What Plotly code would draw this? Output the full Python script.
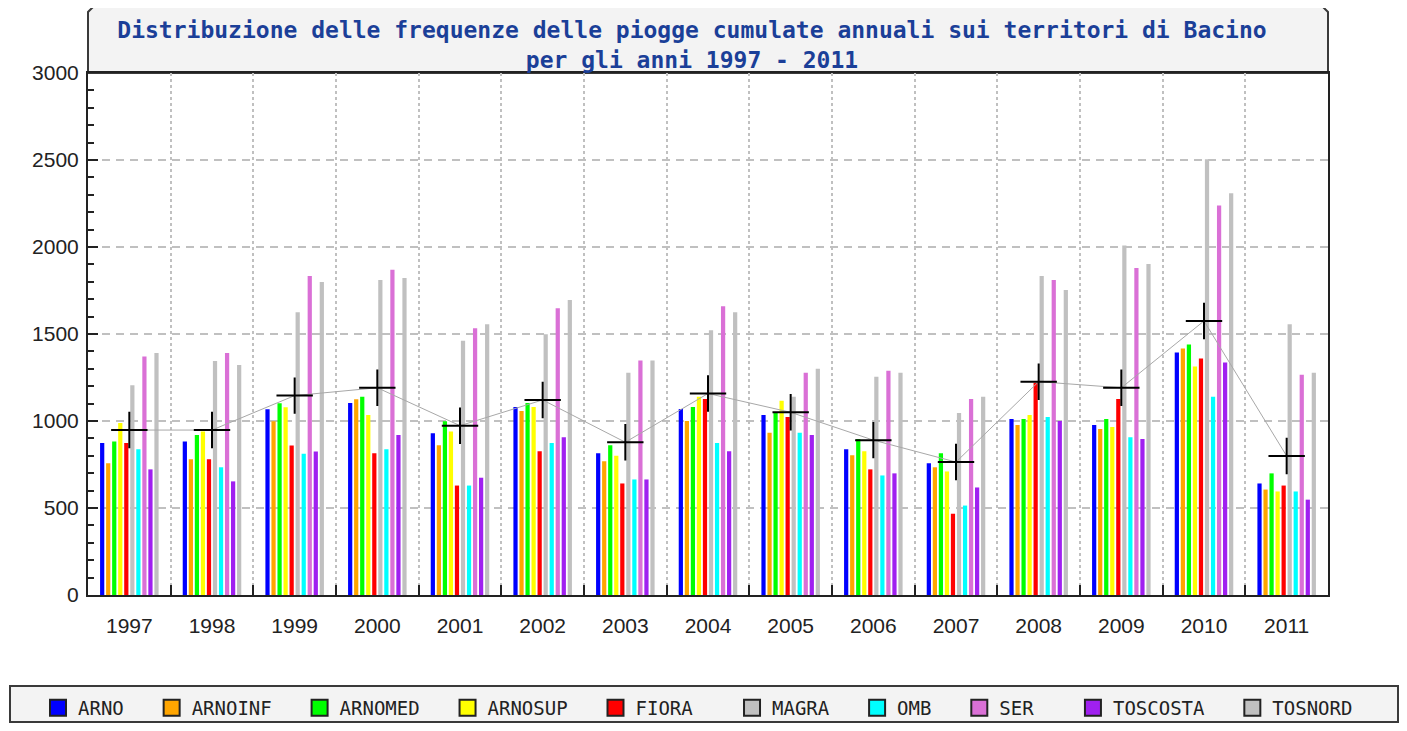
import plotly.graph_objects as go

years = ["1997", "1998", "1999", "2000", "2001", "2002", "2003", "2004",
         "2005", "2006", "2007", "2008", "2009", "2010", "2011"]

arno     = [873, 882, 1067, 1104, 930, 1081, 815, 1069, 1035, 838, 757, 1011, 977, 1394, 641]
arnoinf  = [757, 780, 998, 1125, 861, 1058, 768, 1000, 933, 803, 734, 977, 954, 1417, 606]
arnomed  = [882, 919, 1102, 1139, 998, 1104, 861, 1081, 1046, 896, 815, 1011, 1011, 1440, 699]
arnosup  = [988, 940, 1079, 1035, 940, 1081, 801, 1139, 1116, 826, 710, 1035, 965, 1313, 595]
fiora    = [873, 780, 859, 815, 629, 826, 641, 1127, 1023, 722, 467, 1220, 1127, 1359, 629]
magra    = [1206, 1345, 1625, 1811, 1461, 1498, 1278, 1521, 1139, 1255, 1046, 1834, 2008, 2505, 1556]
omb      = [838, 734, 812, 838, 629, 873, 664, 873, 933, 687, 514, 1023, 907, 1139, 595]
ser      = [1370, 1391, 1834, 1869, 1533, 1648, 1347, 1660, 1278, 1289, 1127, 1811, 1880, 2239, 1266]
toscosta = [722, 653, 824, 919, 674, 907, 664, 826, 919, 699, 618, 1000, 896, 1336, 548]
tosnord  = [1391, 1322, 1799, 1822, 1556, 1695, 1347, 1625, 1301, 1278, 1139, 1753, 1903, 2309, 1278]
media    = [948, 948, 1146, 1191, 973, 1121, 878, 1158, 1050, 890, 764, 1226, 1191, 1575, 799]

series_names = ["ARNO", "ARNOINF", "ARNOMED", "ARNOSUP", "FIORA",
                "MAGRA", "OMB", "SER", "TOSCOSTA", "TOSNORD"]
series_values = [arno, arnoinf, arnomed, arnosup, fiora,
                 magra, omb, ser, toscosta, tosnord]
colors = ["#0000ff", "#ffa500", "#00ff00", "#ffff00", "#ff0000",
          "#c0c0c0", "#00ffff", "#da70d6", "#a020f0", "#c0c0c0"]

# The page body has an 8px margin, so the figure is sized to fit inside the window
OFF = 8
W, H = 1407 - 2 * OFF, 731 - 2 * OFF
# plot area in figure pixels
L, R, T, B = 88 - OFF, 1328 - OFF, 73 - OFF, 595 - OFF


def px(x):
    """page x (reference pixel) -> paper x"""
    return (x - OFF - L) / (R - L)


def py(y):
    """page y (reference pixel) -> paper y"""
    return (B - (y - OFF)) / (B - T)


fig = go.Figure()

for name, vals, col in zip(series_names, series_values, colors):
    fig.add_trace(go.Bar(x=years, y=vals, name=name, marker_color=col,
                         marker_line_width=0, showlegend=False))

fig.add_trace(go.Scatter(
    x=years, y=media, mode="lines+markers", name="Media", showlegend=False,
    line=dict(color="#a8a8a8", width=1),
    marker=dict(symbol="cross-thin", size=26, color="black",
                line=dict(width=2, color="black"))))

# legend entries
pads = ["\u00a0\u00a0"] * 4 + ["\u00a0\u00a0\u00a0"] + ["\u00a0\u00a0"] * 2 + \
       ["\u00a0\u00a0\u00a0"] + ["\u00a0\u00a0"] + [""]
for name, col, p in zip(series_names, colors, pads):
    fig.add_trace(go.Scatter(
        x=[None], y=[None], mode="markers", name=name + p,
        marker=dict(symbol="square", size=18, color=col,
                    line=dict(width=2, color="#222222"))))

mono = "DejaVu Sans Mono"
sans = "Liberation Sans"

shapes = [
    # title box with chamfered top corners
    dict(type="path", xref="paper", yref="paper",
         path=(f"M {px(88)},{py(73)} L {px(88)},{py(12)} L {px(94)},{py(6)} "
               f"L {px(1322)},{py(6)} L {px(1328)},{py(12)} L {px(1328)},{py(73)} Z"),
         fillcolor="#f3f3f3", line=dict(color="#3a3a3a", width=2), layer="below"),
    # legend box
    dict(type="rect", xref="paper", yref="paper",
         x0=px(10), x1=px(1398), y0=py(686), y1=py(722),
         fillcolor="#f3f3f3", line=dict(color="#3a3a3a", width=2), layer="below"),
]

fig.update_layout(
    width=W, height=H,
    margin=dict(l=L, r=W - R, t=T, b=H - B, pad=0, autoexpand=False),
    paper_bgcolor="white", plot_bgcolor="white",
    barmode="group", bargap=0.27, bargroupgap=0.3,
    title=dict(
        text=("Distribuzione delle frequenze delle piogge cumulate annuali sui territori di Bacino"
              "<br>per gli anni 1997 - 2011"),
        font=dict(family=mono, size=23, color="#1b3f98", weight="bold"),
        x=(692 - OFF) / W, xref="container", xanchor="center",
        y=1 - 30 / H, yref="container", yanchor="middle"),
    shapes=shapes,
    legend=dict(orientation="h", x=px(38), xanchor="left", y=py(708), yanchor="middle",
                bgcolor="rgba(0,0,0,0)", borderwidth=0,
                font=dict(family=mono, size=19, color="#222222"),
                itemsizing="trace"),
    xaxis=dict(
        type="category", tickson="boundaries", range=[-0.5, len(years) - 0.5],
        autorange=False,
        showline=True, linecolor="#222222", linewidth=2, mirror=True,
        ticks="inside", ticklen=10, tickwidth=2, tickcolor="#222222",
        showgrid=True, gridcolor="#c0c0c0", gridwidth=1.5, griddash="dot",
        tickfont=dict(family=sans, size=21, color="#222222"),
        ticklabelstandoff=11),
    yaxis=dict(
        range=[0, 3000], tickvals=[0, 500, 1000, 1500, 2000, 2500, 3000],
        showline=True, linecolor="#222222", linewidth=2, mirror=True,
        ticks="inside", ticklen=10, tickwidth=2, tickcolor="#222222",
        minor=dict(dtick=100, ticks="inside", ticklen=6, tickwidth=2,
                   tickcolor="#222222", showgrid=False),
        showgrid=True, gridcolor="#c0c0c0", gridwidth=1.5, griddash="8px,6px",
        zeroline=False,
        tickfont=dict(family=sans, size=21, color="#222222"),
        ticklabelstandoff=3),
    font=dict(family=sans),
)

fig.write_html("out.html")
